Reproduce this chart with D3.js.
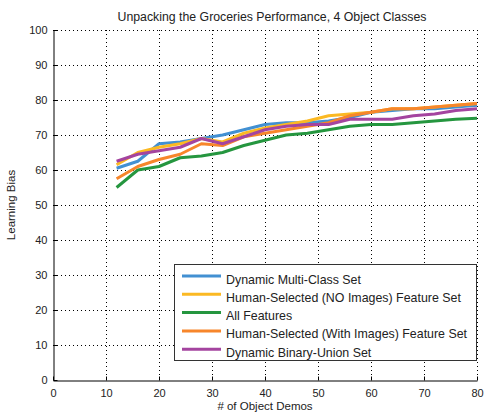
<!DOCTYPE html>
<html><head><meta charset="utf-8">
<script src="https://cdn.jsdelivr.net/npm/d3@7"></script>
<style>body{margin:0;background:#fff}svg{display:block}text{font-family:"Liberation Sans",Arial,sans-serif;fill:#222}</style>
</head><body>
<svg id="c" width="487" height="415"></svg>
<script>
const demos = [12,16,20,24,28,32,36,40,44,48,52,56,60,64,68,72,76,80];
const dynamicMultiClass = [60.5,62.5,67.5,68,69,70,71.5,73,73.5,73.5,74,75,76.5,77,77.5,77.5,78,78.5];
const humanNoImages    = [61.5,65,66.5,67.5,69,68,70.5,72,73,74,75.5,76,76.5,77.5,77.5,78,78.5,79];
const allFeatures      = [55,60,61,63.5,64,65,67,68.5,70,70.5,71.5,72.5,73,73,73.5,74,74.5,74.8];
const humanWithImages  = [57.5,61,63,64.5,67.5,67,69.5,70.5,71.5,72.5,73.5,75.5,76.5,77.5,77.5,78,78.5,79];
const dynamicBinary    = [62.5,64.5,65.5,66.5,69,67.5,69.5,71.5,72.5,73,73,74.5,74.5,74.5,75.5,76,77,77.5];
const seriesNames = ["Dynamic Multi-Class Set","Human-Selected (NO Images) Feature Set","All Features","Human-Selected (With Images) Feature Set","Dynamic Binary-Union Set"];
const seriesColors = ["#4290d2","#fbb923","#25963f","#f7862b","#a4449f"];
const xTicks = [0,10,20,30,40,50,60,70,80];
const yTicks = [0,10,20,30,40,50,60,70,80,90,100];
const title = "Unpacking the Groceries Performance, 4 Object Classes";
const xLabel = "# of Object Demos";
const yLabel = "Learning Bias";

const allSeries = [dynamicMultiClass,humanNoImages,allFeatures,humanWithImages,dynamicBinary];
const svg = d3.select("#c");
const L=53,R=477,T=30,B=380;
const x = d3.scaleLinear().domain([0,80]).range([L,R]);
const y = d3.scaleLinear().domain([0,100]).range([B,T]);

// grid
const g = svg.append("g");
g.selectAll(".gx").data(xTicks.slice(1)).join("line")
 .attr("x1",d=>x(d)+0.5).attr("x2",d=>x(d)+0.5).attr("y1",T).attr("y2",B)
 .attr("stroke","#000").attr("stroke-width",1).attr("stroke-dasharray","1,3");
g.selectAll(".gy").data(yTicks.slice(1)).join("line")
 .attr("y1",d=>y(d)+0.5).attr("y2",d=>y(d)+0.5).attr("x1",L).attr("x2",R)
 .attr("stroke","#000").attr("stroke-width",1).attr("stroke-dasharray","1,3");

// axes
const xa = svg.append("g").attr("transform",`translate(0,${B+0.5})`)
 .call(d3.axisBottom(x).tickValues(xTicks).tickSizeInner(-4).tickSizeOuter(0).tickPadding(9));
const ya = svg.append("g").attr("transform",`translate(${L+0.5},0)`)
 .call(d3.axisLeft(y).tickValues(yTicks).tickSizeInner(-4).tickSizeOuter(0).tickPadding(6));
[xa,ya].forEach(a=>{a.selectAll("text").style("font-size","11px").style("font-family","Liberation Sans, Arial, sans-serif").attr("fill","#222");
 a.select(".domain").attr("stroke","#000");a.selectAll(".tick line").attr("stroke","#000");});

// lines
const line = d3.line().x((d,i)=>x(demos[i])).y(d=>y(d));
allSeries.forEach((s,i)=>{
 svg.append("path").datum(s).attr("d",line).attr("fill","none")
  .attr("stroke",seriesColors[i]).attr("stroke-width",3).attr("stroke-linejoin","round");
});

// legend
const lg = svg.append("g");
lg.append("rect").attr("x",174.5).attr("y",264.5).attr("width",302).attr("height",96)
 .attr("fill","#fff").attr("stroke","#333").attr("stroke-width",1);
seriesNames.forEach((n,i)=>{
 const yy = 279 + i*18.3;
 lg.append("line").attr("x1",182).attr("x2",221).attr("y1",yy-3).attr("y2",yy-3)
  .attr("stroke",seriesColors[i]).attr("stroke-width",3);
 lg.append("text").attr("x",226).attr("y",yy+4.5).style("font-size","12.4px").text(n);
});

// titles
svg.append("text").attr("x",272).attr("y",21).attr("text-anchor","middle").style("font-size","12.3px").text(title);
svg.append("text").attr("x",265).attr("y",410).attr("text-anchor","middle").style("font-size","11.5px").text(xLabel);
svg.append("text").attr("transform","translate(15,205) rotate(-90)").attr("text-anchor","middle").style("font-size","11.5px").text(yLabel);
</script>
</body></html>
